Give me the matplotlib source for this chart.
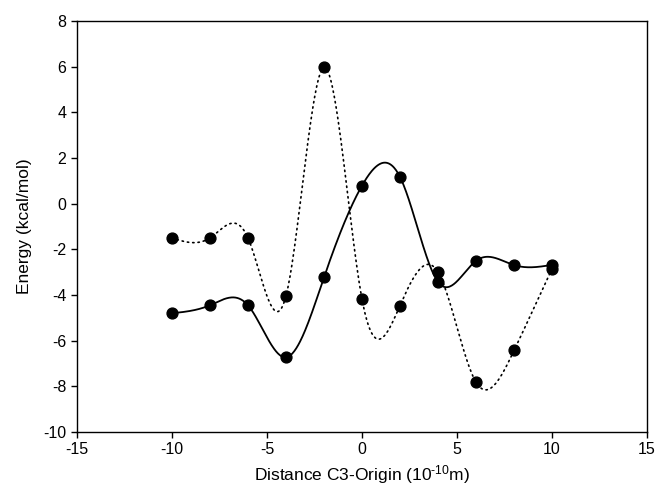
import numpy as np
import matplotlib
matplotlib.use("Agg")
import matplotlib.pyplot as plt

plt.rcParams['font.family'] = ['Liberation Sans', 'DejaVu Sans']
plt.rcParams['mathtext.fontset'] = 'custom'
plt.rcParams['mathtext.rm'] = 'Liberation Sans'
plt.rcParams['mathtext.it'] = 'Liberation Sans:italic'
plt.rcParams['axes.unicode_minus'] = False

# Data
x_vals = [-10, -8, -6, -4, -2, 0, 2, 4, 6, 8, 10]
solid_y = [-4.80, -4.45, -4.45, -6.73, -3.23, 0.79, 1.17, -3.43, -2.50, -2.69, -2.68]
dotted_y = [-1.50, -1.50, -1.50, -4.04, 5.97, -4.18, -4.46, -3.00, -7.82, -6.43, -2.85]

x_ticks = [-15, -10, -5, 0, 5, 10, 15]
y_ticks = [-10, -8, -6, -4, -2, 0, 2, 4, 6, 8]


def natural_spline(x, y, n=600):
    x = np.asarray(x, float)
    y = np.asarray(y, float)
    m = len(x)
    h = np.diff(x)
    A = np.zeros((m, m))
    b = np.zeros(m)
    A[0, 0] = 1
    A[-1, -1] = 1
    for i in range(1, m - 1):
        A[i, i - 1] = h[i - 1]
        A[i, i] = 2 * (h[i - 1] + h[i])
        A[i, i + 1] = h[i]
        b[i] = 3 * ((y[i + 1] - y[i]) / h[i] - (y[i] - y[i - 1]) / h[i - 1])
    c = np.linalg.solve(A, b)
    xs = np.linspace(x[0], x[-1], n)
    idx = np.clip(np.searchsorted(x, xs) - 1, 0, m - 2)
    bb = (y[1:] - y[:-1]) / h - h * (2 * c[:-1] + c[1:]) / 3
    d = (c[1:] - c[:-1]) / (3 * h)
    t = xs - x[idx]
    ys = y[idx] + bb[idx] * t + c[idx] * t ** 2 + d[idx] * t ** 3
    return xs, ys


fig = plt.figure(figsize=(6.63, 5.0), dpi=100)
ax = fig.add_axes([0.116, 0.136, 0.86, 0.822])

xs, ys = natural_spline(x_vals, solid_y)
ax.plot(xs, ys, color='black', lw=1.3, solid_capstyle='round')
xs, ys = natural_spline(x_vals, dotted_y)
ax.plot(xs, ys, color='black', lw=1.2, linestyle=(0, (0.8, 2.4)), dash_capstyle='round')

ax.plot(x_vals, solid_y, 'o', color='black', ms=7.8)
ax.plot(x_vals, dotted_y, 'o', color='black', ms=7.8)

ax.set_xlim(-15, 15)
ax.set_ylim(-10, 8)
ax.set_xticks(x_ticks)
ax.set_yticks(y_ticks)
ax.tick_params(direction='out', length=4, width=1, labelsize=11.5, top=False, right=False)
for s in ax.spines.values():
    s.set_linewidth(1.0)

ax.set_xlabel(r'Distance C3-Origin (10$^{\text{-10}}$m)', fontsize=12.5, labelpad=4)
ax.set_ylabel('Energy (kcal/mol)', fontsize=12.5, labelpad=8)

fig.savefig('out.png', dpi=100)
